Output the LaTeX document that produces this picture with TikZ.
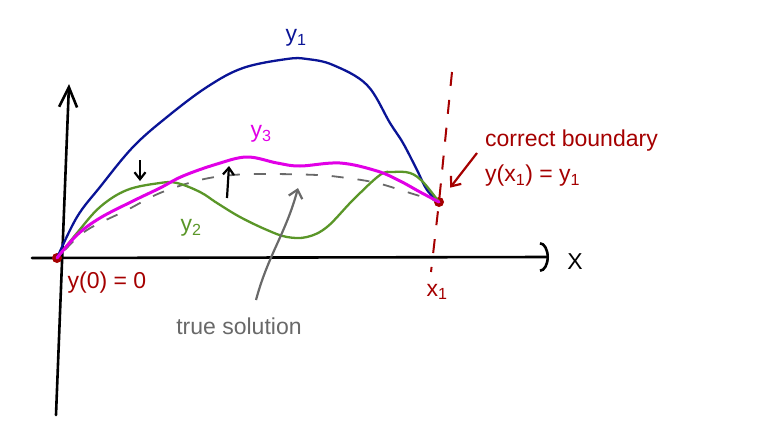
\documentclass[tikz,border=0pt]{standalone}
\usepackage{fontspec}
\setmainfont{Liberation Sans}
\usetikzlibrary{arrows.meta, positioning}

\definecolor{trialblue}{RGB}{10,20,150}
\definecolor{trialgreen}{RGB}{90,150,40}
\definecolor{trialpink}{RGB}{225,0,230}
\definecolor{bcred}{RGB}{165,0,0}
\definecolor{truegray}{RGB}{105,105,105}

\begin{document}
\begin{tikzpicture}[
		x=1pt, y=-1pt,
		font=\fontsize{23}{26}\selectfont,
		% Style for the axes
		axis/.style={line width=2.6pt, line cap=round},
		% Styles for the shooting trials
		trial/.style={line width=2.3pt, line cap=round},
		true curve/.style={line width=1.8pt, truegray, dash pattern=on 12pt off 14pt},
		% Boundary markers
		bc dot/.style={circle, fill=bcred, minimum size=10pt, inner sep=0pt},
		bc line/.style={line width=2pt, bcred, dash pattern=on 14pt off 14pt},
		% Little arrows
		nudge/.style={line width=2.2pt, -{Straight Barb[length=7pt, width=11pt]}},
		term label/.style={inner sep=1pt}
		]
		
		\useasboundingbox (0,0) rectangle (758,442);
		
		% --- 1. Axes ---
		\coordinate (ybot) at (56,415);
		\coordinate (ytop) at (69,84);
		\coordinate (xleft) at (32,258);
		\coordinate (xright) at (549,257);
		\draw[axis, -{Straight Barb[length=20pt, width=18pt]}] (ybot) -- (ytop);
		\draw[axis, -{Arc Barb[length=9pt, width=30pt]}] (xleft) -- (xright);
		\node[term label] (xlbl) at (575,262) {X};
		
		% --- 2. Boundary points ---
		\node[bc dot] (y0) at (57,258) {};
		\node[bc dot] (y1end) at (439,202) {};
		\coordinate (bctop) at (452,72);
		\coordinate (bcbot) at (431,272);
		\draw[bc line] (bctop) -- (y1end.center) -- (bcbot);
		\node[term label, text=bcred] (lbl0) at (107,283) {y(0) = 0};
		\node[term label, text=bcred] (lblx1) at (437,292) {x\textsubscript{1}};
		
		% --- 3. True solution (dashed) ---
		\draw[true curve] plot[smooth, tension=0.6] coordinates {
			(65,250) (87,230) (127,210) (160,193) (200,180) (233,175) (267,174)
			(317,175) (347,178) (377,183) (410,193) (y1end.center)};
		
		% --- 4. Trials y1, y2, y3 ---
		\draw[trial, trialblue] plot[smooth, tension=0.6] coordinates {
			(y0.center) (77,217) (100,187) (133,147) (167,117) (207,87) (243,68)
			(287,59) (307,59) (333,65) (367,85) (390,123) (403,143) (417,170)
			(427,190) (y1end.center)};
		\draw[trial, trialgreen] plot[smooth, tension=0.6] coordinates {
			(y0.center) (77,233) (100,207) (127,190) (160,183) (177,183) (200,192)
			(217,203) (240,217) (267,230) (287,237) (307,237) (327,227) (353,200)
			(380,175) (393,172) (410,173) (423,182) (y1end.center)};
		\draw[trial, trialpink, line width=3pt] plot[smooth, tension=0.6] coordinates {
			(y0.center) (77,235) (100,218) (133,201) (160,188) (183,176) (217,164)
			(247,157) (277,163) (300,166) (340,163) (377,171) (400,181) (420,192)
			(y1end.center)};
		
		\node[term label, text=trialblue] (lbly1) at (296,38) {y\textsubscript{1}};
		\node[term label, text=trialgreen] (lbly2) at (191,228) {y\textsubscript{2}};
		\node[term label, text=trialpink] (lbly3) at (261,134) {y\textsubscript{3}};
		
		% --- 5. Nudges between trials ---
		\coordinate (down-a) at (140,160);
		\coordinate (down-b) at (140,181);
		\coordinate (up-a) at (227,198);
		\coordinate (up-b) at (229,166);
		\draw[nudge] (down-a) -- (down-b);
		\draw[nudge] (up-a) -- (up-b);
		
		% --- 6. Annotations ---
		\node[term label, text=truegray] (truelbl) at (239,326) {true solution};
		\coordinate (truefoot) at (256,300);
		\coordinate (truehead) at (298,188);
		\draw[line width=2.2pt, truegray, -{Straight Barb[length=8pt, width=14pt]}]
			(truefoot) to[out=75, in=-105] (truehead);
		
		\node[term label, text=bcred, anchor=west] (bnd1) at (484,141) {correct boundary};
		\node[term label, text=bcred, anchor=west] (bnd2) at (484,176) {y(x\textsubscript{1}) = y\textsubscript{1}};
		\coordinate (bndtail) at (477,153);
		\draw[line width=2.2pt, bcred, shorten >=13pt, -{Straight Barb[length=8pt, width=13pt]}]
			(bndtail) -- (y1end);
		
	\end{tikzpicture}
\end{document}
